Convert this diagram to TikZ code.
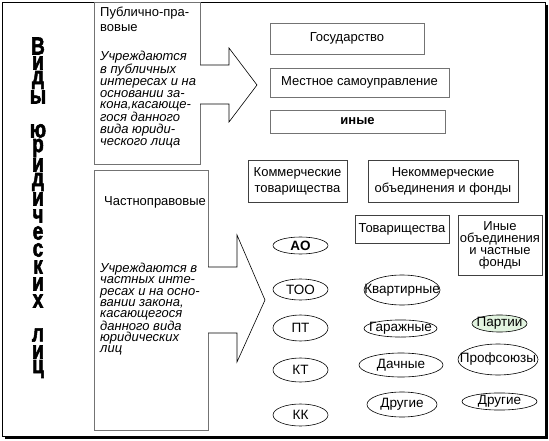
\documentclass[tikz,border=0pt]{standalone}
\usepackage{fontspec}
\setmainfont{Liberation Sans}
\newfontfamily\titlefont[BoldFeatures={FakeBold=2.5}]{Liberation Sans}
\usepackage{graphicx}
\usetikzlibrary{shapes.geometric,positioning}
\definecolor{partgreen}{RGB}{226,244,224}
\newcommand{\tallch}[1]{\scalebox{1}[1.3]{#1}}
\newcommand{\ovl}[1]{\makebox[0pt]{#1}}

\begin{document}
\begin{tikzpicture}[x=1pt,y=-1pt,
  font=\fontsize{13}{15}\selectfont,
  gbox/.style={draw=black!55,line width=0.6pt,minimum width=#1},
  kbox/.style={draw=black!75,line width=0.6pt,align=center,inner sep=2pt},
  oval/.style={ellipse,draw,line width=0.6pt,inner sep=0pt,font=\fontsize{13.5}{15}\selectfont},
  bigarrow/.style={draw,line width=0.6pt,fill=white},
  vchar/.style={font=\fontsize{19}{19}\titlefont\bfseries,inner sep=0pt}]
\useasboundingbox (0,0) rectangle (549,441);

% frame with shadow
\draw[line width=0.8pt] (2,2) rectangle (545,436);
\draw[line width=2.4pt] (546.8,5) -- (546.8,437.8) -- (5,437.8);

% title, one letter a line
\foreach \ch [count=\i] in {В,и,д,ы,,ю,р,и,д,и,ч,е,с,к,и,х,,л,и,ц}
  \node[vchar] (v\i) at (38,{46+17*(\i-1)}) {\tallch{\ch}};

% left boxes
\node[gbox=106pt,minimum height=162pt] (pub) at (147,83) {};
\node[gbox=114pt,minimum height=260pt] (priv) at (151,300) {};

% block arrows
\draw[bigarrow] (200,65) -- (229,65) -- (229,48) -- (257,85) -- (229,122) -- (229,104) -- (200,104);
\draw[bigarrow] (208,267) -- (237,267) -- (237,235) -- (265,300) -- (237,362) -- (237,333) -- (208,333);

% texts in the left boxes
\node[anchor=north west,align=left,inner sep=0pt]
  (pubname) at (100,7) {Публично-пра-\\вовые};
\node[anchor=north west,align=left,inner sep=0pt,font=\fontsize{13}{11.7}\itshape]
  (pubtext) at (100,51) {Учреждаются\\в публичных\\интересах и на\\основании за-\\кона,касающе-\\гося данного\\вида юриди-\\ческого лица};
\node[anchor=west,inner sep=0pt] (privname) at (104,202) {Частноправовые};
\node[anchor=north west,align=left,inner sep=0pt,font=\fontsize{13}{11.2}\itshape]
  (privtext) at (100,263) {Учреждаются в\\частных инте-\\ресах и на осно-\\вании закона,\\касающегося\\данного вида\\юридических\\лиц};

% public bodies
\node[gbox=154pt,minimum height=31pt] (gos) at (347,38.5) {Государство};
\node[gbox=179pt,minimum height=29pt] (mest) at (359.5,82.5) {Местное самоуправление};
\node[gbox=175pt,minimum height=23pt,font=\fontsize{13}{15}\bfseries] (inye) at (357.5,121.5) {иные};

% private groups
\node[kbox,minimum width=99pt,minimum height=42pt,font=\fontsize{13}{16}\selectfont] (kom) at (297.5,181) {Коммерческие\\товарищества};
\node[kbox,minimum width=150pt,minimum height=42pt,font=\fontsize{13}{16}\selectfont] (nekom) at (443,181) {Некоммерческие\\объединения и фонды};
\node[kbox,minimum width=94pt,minimum height=28pt] (tov) at (402,229) {Товарищества};
\node[kbox,minimum width=84pt,minimum height=60pt,font=\fontsize{13}{12}\selectfont] (inob) at (500,245) {Иные\\объединения\\и частные\\фонды};

% commercial forms
\node[oval,minimum width=55pt,minimum height=17pt,font=\fontsize{13.5}{15}\bfseries] (ao) at (300.5,245.5) {\ovl{АО}};
\node[oval,minimum width=55pt,minimum height=21pt] (too) at (300.5,289.5) {\ovl{ТОО}};
\node[oval,minimum width=55pt,minimum height=26pt] (pt) at (300.5,328) {\ovl{ПТ}};
\node[oval,minimum width=55pt,minimum height=24pt] (kt) at (300.5,370) {\ovl{КТ}};
\node[oval,minimum width=55pt,minimum height=22pt] (kk) at (300.5,415) {\ovl{КК}};

% partnerships
\node[oval,minimum width=76pt,minimum height=30pt] (kvart) at (402,290) {\ovl{Квартирные}};
\node[oval,minimum width=73pt,minimum height=17pt] (garazh) at (400.5,328.5) {\ovl{Гаражные}};
\node[oval,minimum width=84pt,minimum height=24pt] (dach) at (401,365) {\ovl{Дачные}};
\node[oval,minimum width=70pt,minimum height=25pt] (drtov) at (402,404.5) {\ovl{Другие}};

% other associations
\node[oval,fill=partgreen,minimum width=55pt,minimum height=17pt] (part) at (499.5,323.5) {\ovl{Партии}};
\node[oval,minimum width=80pt,minimum height=31pt] (prof) at (498,359.5) {\ovl{Профсоюзы}};
\node[oval,minimum width=75pt,minimum height=17pt] (drob) at (499.5,401.5) {\ovl{Другие}};
\end{tikzpicture}
\end{document}
